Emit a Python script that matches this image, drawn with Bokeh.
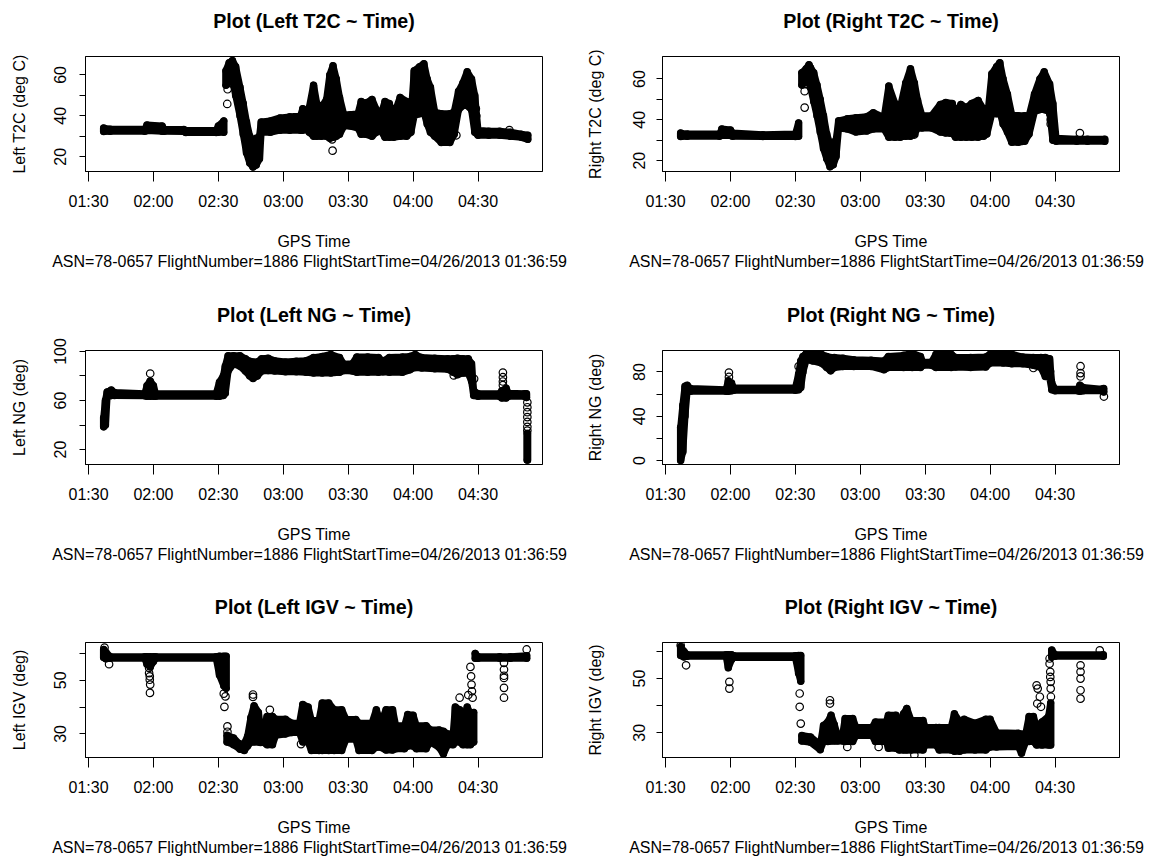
from bokeh.plotting import figure
from bokeh.layouts import column, row
from bokeh.models import Range1d, FixedTicker, Title
from bokeh.embed import file_html
from bokeh.resources import INLINE

FONT = "Liberation Sans"
TIME_TICKS = [90, 120, 150, 180, 210, 240, 270]          # minutes after midnight
TIME_LABELS = ["01:30", "02:00", "02:30", "03:00", "03:30", "04:00", "04:30"]
X_RANGE = (88.6, 299.8)
SUBTITLE = "ASN=78-0657  FlightNumber=1886  FlightStartTime=04/26/2013 01:36:59"

# ---------------- Left T2C ----------------
LT2C_T = [97, 100, 116, 117, 124, 125, 134, 135, 149, 150, 152.5, 153.5, 155, 156.5, 158, 160, 161.5, 163,
          164.5, 166, 167.5, 169, 169.8, 174, 178.5, 183, 188, 189, 190.5, 192, 194, 195.5, 197.5, 200,
          201.5, 203, 204.5, 206, 208, 211, 214.5, 216, 218, 221, 223, 225, 227, 229, 231, 234, 237, 239,
          240.5, 243, 245, 246.5, 248, 250, 253, 257, 259, 261, 263, 265, 267, 268.5, 270, 275, 280, 285,
          290, 293]
LT2C_LO = [32.3, 32.5, 32.5, 32.8, 32.5, 32.5, 32.3, 31.8, 31.8, 32, 32, 55, 57, 58, 50, 40, 31, 22,
           17, 15, 16, 19, 32, 32, 33, 33, 33, 33, 33.5, 32, 30, 30, 30, 30,
           29, 29.5, 30, 31, 35, 35, 34, 31, 31, 30, 32, 33, 29.5, 29.5, 29.5, 30, 30, 32,
           40, 41, 42, 36, 32, 30, 27, 27, 31, 43, 45, 45, 43, 32, 30.5, 30.5, 30.5, 30,
           29.5, 28.5]
LT2C_HI = [34, 33.5, 33.5, 35.5, 35, 33.5, 33.3, 32.8, 32.8, 35, 37.5, 62, 66, 67, 64, 54, 46, 37,
           30, 28, 29, 30, 37, 37.5, 39, 39.5, 40, 43.5, 39, 44, 55, 46, 44, 48,
           60, 64.5, 58, 49, 40.5, 40.5, 41, 47, 46, 48, 43, 40, 47, 46, 40, 49, 47, 39,
           62, 64, 65.5, 58, 54, 42, 41, 41, 42, 52, 56, 61.5, 58, 50, 33, 32.5, 32.5, 32,
           31, 30.5]
LT2C_BREAKS = [153.0]
LT2C_OX = [154.1, 154.3, 154.6, 202.8, 202.6, 202.4, 269, 269.2, 284.5, 260]
LT2C_OY = [45.8, 53, 56, 23, 28.5, 32, 43.5, 40, 33, 30.5]

# ---------------- Right T2C ----------------
RT2C_T = [97, 100, 115, 116, 120, 121, 135, 150, 151.5, 153, 155, 156.3, 157, 158.5, 160, 161.5, 163,
          164.5, 166, 167.5, 168.8, 170, 174, 178, 183, 186, 191, 193.2, 196, 198.5, 201, 203.2, 205,
          206.5, 208.5, 213, 217, 219.5, 222.5, 224, 226.5, 229, 231.5, 234.5, 237, 238.5, 240.8, 243,
          244.5, 246, 248, 250, 253, 256, 258, 260.5, 263, 265, 267.5, 269, 270.5, 280, 285, 293]
RT2C_LO = [31.8, 32, 32, 32.5, 32.3, 32, 31.8, 31.8, 32, 57, 59, 60, 56, 49, 42, 34, 26,
           21, 17, 18, 22, 36, 35.5, 34, 34.5, 35.5, 35.5, 31.5, 31.5, 31.5, 32, 32, 33,
           36, 36, 36, 34, 33.5, 33.5, 31.5, 31.5, 31.5, 31.5, 31.5, 32, 33, 43, 43,
           44, 38, 34, 29, 29, 29.5, 33, 44, 45, 45, 44, 30, 29.5, 29.5, 29.5, 29.5]
RT2C_HI = [33.5, 33, 33, 35.5, 35, 33.5, 32.7, 33, 38.5, 63, 65, 67, 65.5, 63, 57, 50, 42,
           33, 28, 29, 30, 39.5, 40.5, 41, 41.5, 43.5, 41, 56.5, 48, 46, 58, 65, 58,
           49.5, 42, 42, 47.5, 48.5, 48, 43, 47.5, 46, 48, 49.5, 45, 38, 62.5, 66,
           68, 60, 52.5, 42.5, 42, 42, 42, 52.5, 60, 63.5, 57.5, 48, 31, 30.5, 30.5, 30.5]
RT2C_BREAKS = [152.2]
RT2C_OX = [154.3, 154.3, 154.3, 201.5, 205, 221.5, 267.5, 267.8, 268, 268, 281.5]
RT2C_OY = [46, 54, 57.5, 33.7, 32.8, 33.7, 47, 43, 40, 38, 33.5]

# ---------------- Left NG ----------------
LNG_T = [97, 97.8, 98.6, 100.5, 102, 116, 117, 118.5, 120, 121, 149, 150.5, 152.3, 153.2, 154.5, 157,
         160, 162.5, 164.5, 166, 168, 170, 173, 176, 181, 186, 190.5, 194, 198, 202, 206, 208, 212,
         214, 219, 224, 226, 229, 235, 238.5, 241, 244, 250, 256, 258.5, 260.5, 263, 265.5, 267, 268,
         270, 280, 281, 283, 284, 291.5, 292.4, 292.7, 292.9]
LNG_LO = [38.5, 40, 63, 64, 64, 63.8, 63.5, 63.5, 63.5, 63.5, 63.5, 63.5, 64, 66, 84, 90,
          88, 84, 80, 78, 80, 84, 84.5, 84, 83.5, 83.5, 83, 82.5, 82.5, 82.5, 83, 84.5, 84,
          83, 83, 83, 83.5, 83, 83, 85, 87, 86.5, 86, 85.5, 83, 81, 82.5, 82, 76, 64,
          63.5, 63.5, 62, 62, 63.5, 63.5, 62.5, 11.5, 11.5]
LNG_HI = [46, 60, 67, 68.5, 66.5, 65.5, 72, 76, 72, 65.5, 65.5, 75, 80, 88, 96.5, 96.5,
          96.5, 94, 92, 91.5, 91.5, 94, 94.5, 92.5, 91.5, 92, 92.5, 95, 96, 97.5, 95, 89.5, 90,
          95.5, 95.5, 95, 92, 95, 95.5, 96, 97.5, 95, 94.5, 94, 94, 94.5, 94, 94, 90, 68,
          65.5, 65.5, 68, 70, 66, 65.5, 65.5, 33, 33]
LNG_BREAKS = [292.55]
LNG_OX = [118.5, 281.5, 281.5, 281.5, 281.5, 292.8, 292.8, 292.8, 292.8, 292.8, 292.8, 292.8, 258.8, 268.2]
LNG_OY = [82, 82.8, 79, 75.5, 72.5, 58.5, 54.5, 50.5, 46.5, 42.5, 38.5, 35.5, 80.5, 77.7]

# ---------------- Right NG ----------------
RNG_T = [97, 98, 99, 100, 101.5, 118, 119, 120.5, 121.5, 150, 151.5, 152.5, 153.5, 155, 158, 162,
         164.5, 166.3, 168, 172, 177, 185, 191, 193, 200, 204, 207.8, 209, 213, 215, 222, 224, 231,
         238, 240, 246, 250, 255, 260, 263.5, 265.5, 267.5, 268.5, 270, 280.5, 281.5, 283, 291.5, 292.5]
RNG_LO = [0, 8, 40, 63, 62.5, 62.5, 62.5, 63, 63.5, 63.5, 64, 66, 80, 91, 90, 88,
          84, 81, 84, 85, 85, 85, 82, 84, 84, 84, 84, 86, 86, 84, 84, 84.5, 84,
          84.5, 88, 88, 87.5, 87.5, 86, 84, 76, 75, 64, 63, 63, 62.5, 63, 63, 62]
RNG_HI = [30, 50, 67, 68, 65, 64, 72, 70, 65.5, 65.5, 78, 90, 94, 96.5, 97, 96,
          94, 93, 93, 92.5, 91, 90.5, 90, 94, 95, 97, 94, 88.5, 89, 96, 96, 93, 93,
          93.5, 96, 96.5, 96, 93.5, 93, 93, 93, 92, 70, 64.5, 64.5, 68, 66, 64.5, 65]
RNG_BREAKS = []
RNG_OX = [119.3, 119.3, 151.5, 260, 267.7, 281.8, 281.8, 281.8, 292.6]
RNG_OY = [79.5, 75.5, 85, 83.6, 80.6, 85.2, 79, 76, 57.8]

# ---------------- Left IGV ----------------
LIGV_T = [97, 98, 100, 116, 117, 118.5, 120, 121, 149, 150.5, 152.5, 153.6, 154, 157, 160, 162, 163.5,
          165, 166.5, 168.5, 169.5, 171, 172.5, 175, 176.5, 181, 184, 187.5, 189, 191.5, 193, 196.5,
          198, 201, 203.5, 207, 209, 213.5, 215, 221, 223, 225, 227.5, 230.5, 232, 236, 237.5, 240,
          241.5, 246, 248, 252, 254, 256, 258.5, 259.5, 261.5, 263, 265, 266.5, 268, 268.7, 270, 280,
          285, 292.5]
LIGV_LO = [58.5, 58, 58.2, 58.2, 56, 55, 57, 58.2, 58.2, 52, 48, 47, 27, 26, 24.3, 23.8, 25.5,
           27, 27, 27, 26.8, 26.8, 26, 26, 29.5, 30, 30.5, 30.5, 27, 27, 23.8, 23.8,
           23.8, 23.8, 23.8, 23.8, 28, 28, 23.8, 23.8, 25, 25, 24, 24, 24.5, 24.5, 25.5, 25.5,
           24.5, 24.5, 27, 25, 22.5, 26, 26, 27, 27, 26, 26, 26, 27, 58.2, 58.2, 58.2,
           58.2, 58.2]
LIGV_HI = [61.5, 60.5, 58.8, 58.8, 58.8, 58.8, 58.8, 58.8, 58.8, 59, 59, 59, 29.5, 28.5, 26, 26.5, 29,
           36, 40.5, 38, 32, 32, 36.5, 36.5, 35.5, 35.5, 34, 34, 41, 40, 35, 35,
           41.5, 41.5, 39, 39, 35.4, 35.4, 34, 34, 39, 34, 39, 39, 33, 33, 37.2, 37,
           33, 33, 31.5, 31.5, 31, 30, 30, 40, 39, 35, 40, 37.5, 38, 60, 58.8, 58.8,
           58.8, 59.2]
LIGV_BREAKS = [153.8, 268.35]
LIGV_OX = [97.4, 99.5, 118, 118, 118.3, 118.3, 118.5, 118.4, 151.5, 152.5, 153.3, 152.8, 154.2, 154.2,
           166, 166, 173.8, 188.2, 266.5, 266.8, 267, 267.2, 267.5, 261.5, 265.5, 282, 282, 282, 282,
           282, 282, 292.5]
LIGV_OY = [62.2, 56, 54.6, 52.7, 51.5, 50.2, 48.4, 45.3, 55, 45, 44, 40.1, 32.8, 30.8,
           44.7, 43.8, 39, 26.2, 55, 51.5, 48.4, 45.9, 43.5, 43.5, 44.5, 56.5, 54, 51.7, 50.9,
           47.2, 43.5, 61.5]

# ---------------- Right IGV ----------------
RIGV_T = [97, 98.5, 100, 118, 119, 120.5, 121.5, 150, 151.5, 152.5, 153, 157, 161.5, 163, 165, 166.5,
          168, 169.5, 172, 173, 176.5, 178, 185.5, 187, 192, 193, 196.5, 198, 200, 201.5, 203.5, 209,
          210, 215, 216.5, 222, 223.5, 226, 228, 233, 238, 240, 243, 253, 254.5, 256.5, 258, 260,
          261.5, 264, 267, 268, 268.5, 270, 292.3]
RIGV_LO = [58.5, 58, 58.2, 58.2, 54, 57, 57.8, 57.8, 52, 49, 27, 26.5, 23.8, 26.8, 26.8, 27,
           27, 27, 27, 26.8, 26.8, 29, 29, 26.8, 26.8, 24.3, 24.3, 23.7, 23.7, 23.7, 23.7, 23.7,
           25.5, 25.5, 23.7, 23.7, 23.2, 23.2, 23.7, 23.7, 23.7, 24.8, 24.8, 25, 22.5, 26.8, 26.8, 26.8,
           25.5, 25.5, 25.5, 25.5, 58, 58.2, 58.2]
RIGV_HI = [61.8, 60, 58.8, 58.8, 58.8, 58.8, 58.4, 58.4, 58.5, 58.5, 29, 28.5, 25.5, 32.7, 34, 36.5,
           33, 29, 30, 35.3, 35.3, 32, 32, 34, 34, 36.5, 36.5, 32, 37, 39, 34.5, 34.5,
           32, 32, 32, 32, 37, 34, 35, 33.5, 35, 35, 30, 29.8, 29.5, 29.8, 36, 36,
           32, 34, 36, 41, 60.5, 58.8, 58.8]
RIGV_BREAKS = [152.8, 268.3]
RIGV_OX = [97, 99.5, 119.5, 119.5, 152, 152, 152.5, 166, 166, 174, 188.5, 205, 261.5, 262, 263, 261.8,
           263.5, 267.5, 267.5, 267.8, 267.8, 268, 268, 268.1, 281.8, 281.8, 281.8, 281.8, 281.8, 290.7]
RIGV_OY = [62.3, 54.9, 48.8, 46.3, 44.5, 39.6, 33.4, 42, 40.8, 24.8, 24.8, 21.8, 47.5, 46.3, 43.3, 40.8,
           39.6, 57.4, 55.5, 52.5, 50.6, 48.8, 46.3, 43.3, 54.9, 52.5, 50, 45.7, 42.6, 60.4]

PANELS = [
    dict(title="Plot (Left T2C ~ Time)", ylab="Left T2C (deg C)", t=LT2C_T, lo=LT2C_LO, hi=LT2C_HI,
         br=LT2C_BREAKS, ox=LT2C_OX, oy=LT2C_OY, yr=(12.8, 69.0), yt=[20, 30, 40, 50, 60], yl=[20, 40, 60]),
    dict(title="Plot (Right T2C ~ Time)", ylab="Right T2C (deg C)", t=RT2C_T, lo=RT2C_LO, hi=RT2C_HI,
         br=RT2C_BREAKS, ox=RT2C_OX, oy=RT2C_OY, yr=(14.7, 71.0), yt=[20, 30, 40, 50, 60], yl=[20, 40, 60]),
    dict(title="Plot (Left NG ~ Time)", ylab="Left NG (deg)", t=LNG_T, lo=LNG_LO, hi=LNG_HI,
         br=LNG_BREAKS, ox=LNG_OX, oy=LNG_OY, yr=(7.8, 100.8), yt=[20, 40, 60, 80, 100], yl=[20, 60, 100]),
    dict(title="Plot (Right NG ~ Time)", ylab="Right NG (deg)", t=RNG_T, lo=RNG_LO, hi=RNG_HI,
         br=RNG_BREAKS, ox=RNG_OX, oy=RNG_OY, yr=(-3.6, 99.4), yt=[0, 20, 40, 60, 80], yl=[0, 40, 80]),
    dict(title="Plot (Left IGV ~ Time)", ylab="Left IGV (deg)", t=LIGV_T, lo=LIGV_LO, hi=LIGV_HI,
         br=LIGV_BREAKS, ox=LIGV_OX, oy=LIGV_OY, yr=(21.2, 64.1), yt=[30, 40, 50, 60], yl=[30, 50]),
    dict(title="Plot (Right IGV ~ Time)", ylab="Right IGV (deg)", t=RIGV_T, lo=RIGV_LO, hi=RIGV_HI,
         br=RIGV_BREAKS, ox=RIGV_OX, oy=RIGV_OY, yr=(20.9, 63.3), yt=[30, 40, 50, 60], yl=[30, 50]),
]


def split(t, lo, hi, breaks):
    segs = [([], [], [])]
    for i in range(len(t)):
        if i > 0 and any(t[i - 1] < b <= t[i] for b in breaks):
            segs.append(([], [], []))
        segs[-1][0].append(t[i])
        segs[-1][1].append(lo[i])
        segs[-1][2].append(hi[i])
    return segs


def make_panel(spec, col, rw):
    width = 580 if col == 0 else 579
    left = 85 if col == 0 else 82
    right = width - left - 457
    height = 273 if rw == 2 else 293
    top = 57 if rw == 1 else 56
    fh = 114 if rw == 1 else 115
    bottom = height - top - fh
    p = figure(width=width, height=height, output_backend="svg", toolbar_location=None,
               x_range=Range1d(*X_RANGE), y_range=Range1d(*spec["yr"]),
               min_border_left=left, min_border_right=right, min_border_top=top, min_border_bottom=bottom,
               background_fill_color="white", border_fill_color="white")
    p.xgrid.visible = False
    p.ygrid.visible = False
    p.outline_line_color = "black"
    p.outline_line_width = 1

    # title: a trailing empty line lifts the text higher above the plot box
    p.title.text = spec["title"] + "\n"
    p.title.align = "center"
    p.title.text_font = FONT
    p.title.text_font_size = "19.6px"
    p.title.text_font_style = "bold"
    p.title.text_color = "black"
    p.title.text_line_height = 1.0
    p.title.standoff = 6

    # x axis
    xa = p.xaxis[0]
    xa.ticker = FixedTicker(ticks=TIME_TICKS)
    xa.major_label_overrides = {k: v for k, v in zip(TIME_TICKS, TIME_LABELS)}
    xa.major_tick_out = 10
    xa.major_tick_in = 0
    xa.minor_tick_line_color = None
    xa.major_label_standoff = 11
    xa.major_label_text_font = FONT
    xa.major_label_text_font_size = "16px"
    xa.major_label_text_color = "black"
    xa.axis_label = "GPS Time"
    xa.axis_label_text_font = FONT
    xa.axis_label_text_font_size = "16px"
    xa.axis_label_text_font_style = "normal"
    xa.axis_label_text_color = "black"
    xa.axis_label_standoff = 20
    xa.axis_line_color = "black"

    # y axis
    ya = p.yaxis[0]
    ya.ticker = FixedTicker(ticks=spec["yt"])
    ya.major_label_overrides = {k: ("" if k not in spec["yl"] else str(k)) for k in spec["yt"]}
    ya.major_label_orientation = "vertical"
    ya.major_tick_out = 6
    ya.major_tick_in = 0
    ya.minor_tick_line_color = None
    ya.major_label_standoff = 13 if col == 0 else 11
    ya.major_label_text_font = FONT
    ya.major_label_text_font_size = "16px"
    ya.major_label_text_color = "black"
    ya.axis_label = spec["ylab"]
    ya.axis_label_text_font = FONT
    ya.axis_label_text_font_size = "16px"
    ya.axis_label_text_font_style = "normal"
    ya.axis_label_text_color = "black"
    ya.axis_label_standoff = 24 if col == 0 else 27
    ya.axis_line_color = "black"

    # subtitle
    sub = Title(text=SUBTITLE, align="center", vertical_align="top",
                text_font=FONT, text_font_size="16px", text_font_style="normal",
                text_color="black", standoff=0)
    p.add_layout(sub, "below")

    # dense band of points
    for st, slo, shi in split(spec["t"], spec["lo"], spec["hi"], spec["br"]):
        p.varea(x=st, y1=slo, y2=shi, fill_color="black")
        p.line(st, slo, line_width=7, line_color="black", line_join="round", line_cap="round")
        p.line(st, shi, line_width=7, line_color="black", line_join="round", line_cap="round")
        p.segment(x0=st, y0=slo, x1=st, y1=shi, line_width=7.5, line_color="black", line_cap="round")
    # individual points
    p.scatter(spec["ox"], spec["oy"], marker="circle", size=7.5, fill_color=None,
              line_color="black", line_width=1.2)
    return p


figs = [make_panel(PANELS[i], i % 2, i // 2) for i in range(6)]
layout = column(row(figs[0], figs[1]), row(figs[2], figs[3]), row(figs[4], figs[5]))

with open("out.html", "w") as f:
    f.write(file_html(layout, INLINE))
